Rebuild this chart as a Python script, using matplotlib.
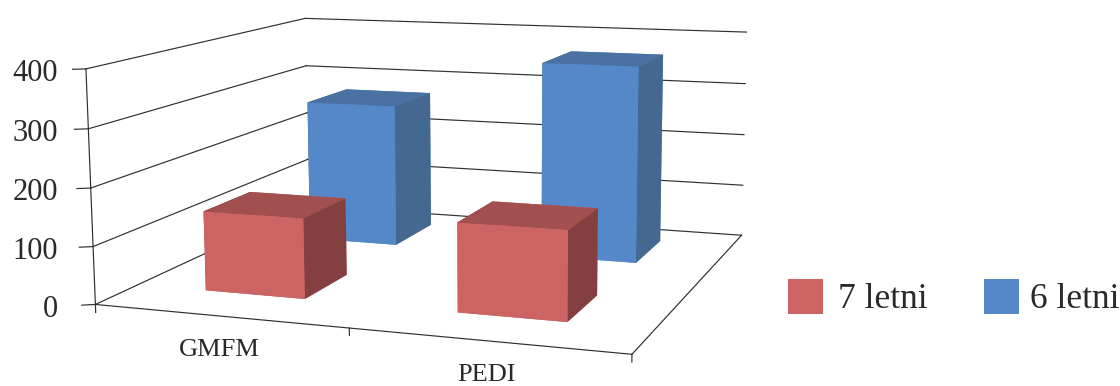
import matplotlib
matplotlib.use('Agg')
import matplotlib.pyplot as plt
import numpy as np
from matplotlib.patches import Rectangle
from mpl_toolkits.mplot3d import proj3d

categories = ['GMFM', 'PEDI']
series_names = ['7 letni', '6 letni']
values_7 = [140, 152]
values_6 = [269, 363]
z_ticks = [0, 100, 200, 300, 400]

W, H = 1120, 386
TEXT = '#2b2829'
LINE = '#303030'
# bar faces in bar3d order: bottom, top, front, back, left, right
RED = ['#cb6462', '#a14f4f', '#cb6462', '#cb6462', '#843f40', '#843f40']
BLUE = ['#5588c8', '#4a71a1', '#5588c8', '#5588c8', '#44688f', '#44688f']

plt.rcParams['font.family'] = ['Liberation Serif', 'DejaVu Serif']

fig = plt.figure(figsize=(W / 100, H / 100), dpi=100)
# square 3D axes, wider than the figure is tall
size = 720.5
ax = fig.add_axes([72.3 / W, -143.3 / H, size / W, size / H], projection='3d', computed_zorder=False)
ax.set_xlim(0, 2, view_margin=0)
ax.set_ylim(0, 1, view_margin=0)
ax.set_zlim(0, 400, view_margin=0)
ax.view_init(elev=10.077, azim=-70.008, roll=0.324)
ax.set_proj_type('persp', focal_length=0.467)
ax.set_box_aspect((1, 0.948, 0.431))
ax.set_axis_off()
ax.patch.set_alpha(0)


def to_pixels(x, y, z):
    u, v, _ = proj3d.proj_transform(x, y, z, ax.get_proj())
    return ax.transData.transform((u, v))


def line3d(xs, ys, zs):
    ax.plot(xs, ys, zs, color=LINE, lw=0.85, zorder=1)


# walls and floor
for z in z_ticks:
    line3d([0, 0], [0, 1], [z, z])
    line3d([0, 2], [1, 1], [z, z])
    # stub pointing left of the value axis
    line3d([-0.042, 0], [-0.013, 0], [z, z])
    px, py = to_pixels(-0.05, -0.015, z)
    fig.text(58 / W, (py - 4) / H, str(z), ha='right', va='center', fontsize=22, color=TEXT)

line3d([0, 0], [0, 0], [-14, 400])
line3d([0, 2], [0, 0], [0, 0])
line3d([2, 2], [0, 1], [0, 0])
for i in range(1, 3):
    line3d([i, i], [0, 0], [-12, 0])

for i, name in enumerate(categories):
    px, py = to_pixels(i + 0.5, 0, 0)
    fig.text(px / W, (py - 34) / H, name, ha='center', va='center', fontsize=19, color=TEXT)

# bars, back row first
xpos_6 = np.arange(len(categories)) + [0.29, 0.31]
xpos_7 = np.arange(len(categories)) + 0.285
ax.bar3d(xpos_6, [0.665] * 2, [0, 0], 0.39, 0.22, values_6, color=BLUE * 2, shade=False, zorder=2, lw=0)
ax.bar3d(xpos_7, [0.167] * 2, [0, 0], 0.405, 0.208, values_7, color=RED * 2, shade=False, zorder=3, lw=0)

# legend
for x0, face, text_x, name in zip([788, 984], [RED[0], BLUE[0]], [838, 1030.5], series_names):
    fig.add_artist(Rectangle((x0 / W, (H - 314) / H), 35 / W, 35 / H, transform=fig.transFigure,
                             facecolor=face, edgecolor='none'))
    fig.text(text_x / W, (H - 308) / H, name, ha='left', va='baseline', fontsize=25.5, color=TEXT)

fig.savefig('out.png', dpi=100)
